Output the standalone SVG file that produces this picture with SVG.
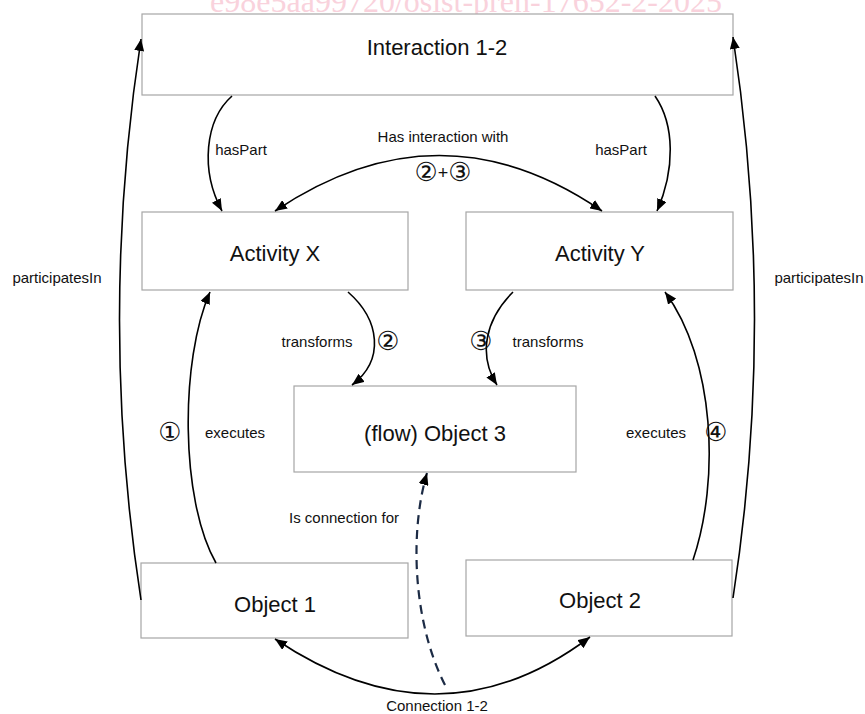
<svg xmlns="http://www.w3.org/2000/svg" width="865" height="714" viewBox="0 0 865 714">
<style>
.box{fill:#fff;stroke:#a6a6a6;stroke-width:1.2}
.nt{font-family:"Liberation Sans",Arial,sans-serif;font-size:22px;fill:#111;text-anchor:middle}
.lt{font-family:"Liberation Sans",Arial,sans-serif;font-size:15px;fill:#111;text-anchor:middle}
.ct{font-family:"DejaVu Sans",sans-serif;font-size:26px;fill:#111;text-anchor:middle}
.e{fill:none;stroke:#000;stroke-width:1.6}
.d{fill:none;stroke:#1c2b45;stroke-width:2.2;stroke-dasharray:9,6}
.wm{font-family:"Liberation Serif","Times New Roman",serif;font-size:32px;fill:#f9d2dc;text-anchor:middle}
</style>
<defs>
<marker id="a" viewBox="0 0 12 10" refX="12" refY="5" markerWidth="12" markerHeight="10" markerUnits="userSpaceOnUse" orient="auto-start-reverse">
<path d="M0,0 L12,5 L0,10 z" fill="#000"/>
</marker>
<marker id="ad" viewBox="0 0 12 10" refX="12" refY="5" markerWidth="12" markerHeight="10" markerUnits="userSpaceOnUse" orient="auto">
<path d="M0,0 L12,5 L0,10 z" fill="#000"/>
</marker>
</defs>
<rect width="865" height="714" fill="#fff"/>
<text class="wm" x="466" y="12">e98e5aa99720/osist-pren-17652-2-2025</text>
<g id="interaction"><rect class="box" x="142" y="14" width="591" height="81"/><text class="nt" x="437" y="55">Interaction 1-2</text></g>
<g id="activityX"><rect class="box" x="142" y="212" width="266" height="78"/><text class="nt" x="275" y="261">Activity X</text></g>
<g id="activityY"><rect class="box" x="466" y="212" width="267" height="78"/><text class="nt" x="600" y="261">Activity Y</text></g>
<g id="object3"><rect class="box" x="294" y="386" width="282" height="86"/><text class="nt" x="435" y="441">(flow) Object 3</text></g>
<g id="object1"><rect class="box" x="141" y="563" width="267" height="75"/><text class="nt" x="275" y="612">Object 1</text></g>
<g id="object2"><rect class="box" x="466" y="560" width="266" height="76"/><text class="nt" x="600" y="608">Object 2</text></g>
<g id="connectors">
<path class="e" d="M141,600 Q98,320 141,39" marker-end="url(#a)"/>
<path class="e" d="M733,598 Q776,320 733,37" marker-end="url(#a)"/>
<path class="e" d="M232,96 C205,120 200,170 222,211" marker-end="url(#a)"/>
<path class="e" d="M655,96 C675,125 675,170 657,211" marker-end="url(#a)"/>
<path class="e" d="M602,211 Q440,100 275,211" marker-start="url(#a)" marker-end="url(#a)"/>
<path class="e" d="M348,292 C380,320 385,360 352,385" marker-end="url(#a)"/>
<path class="e" d="M513,292 C485,320 478,355 497,385" marker-end="url(#a)"/>
<path class="e" d="M216,563 C180,500 180,360 210,292" marker-end="url(#a)"/>
<path class="e" d="M693,560 C720,480 715,360 665,292" marker-end="url(#a)"/>
<path class="e" d="M275,639 Q440,750 590,637" marker-start="url(#a)" marker-end="url(#a)"/>
<path class="d" d="M445,685 C412,620 410,530 427,473" marker-end="url(#ad)"/>
</g>
<g id="labels">
<text class="lt" x="57" y="283">participatesIn</text>
<text class="lt" x="819" y="283">participatesIn</text>
<text class="lt" x="241" y="155">hasPart</text>
<text class="lt" x="621" y="155">hasPart</text>
<text class="lt" x="443" y="142">Has interaction with</text>
<text class="ct" x="443" y="181">②<tspan font-size="18px" font-family="Liberation Sans, sans-serif" dy="-2">+</tspan><tspan dy="2">③</tspan></text>
<text class="lt" x="317" y="347">transforms</text>
<text class="ct" x="388" y="350">②</text>
<text class="ct" x="481" y="350">③</text>
<text class="lt" x="548" y="347">transforms</text>
<text class="ct" x="170" y="441">①</text>
<text class="lt" x="235" y="438">executes</text>
<text class="lt" x="656" y="438">executes</text>
<text class="ct" x="716" y="441">④</text>
<text class="lt" x="344" y="523">Is connection for</text>
<text class="lt" x="437" y="711">Connection 1-2</text>
</g>
</svg>
